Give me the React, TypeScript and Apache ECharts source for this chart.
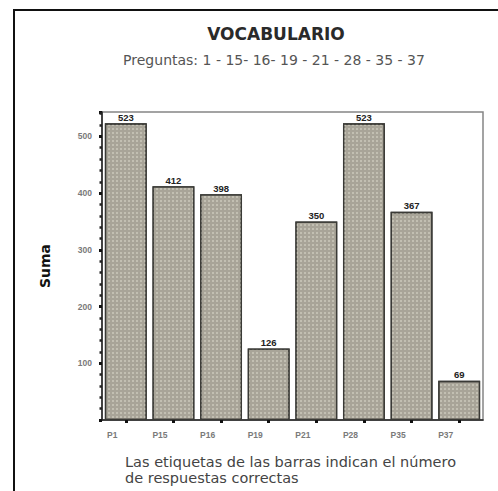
import { useEffect, useRef } from "react";
import * as echarts from "echarts";

// Chart data
const categories = ["P1", "P15", "P16", "P19", "P21", "P28", "P35", "P37"];
const correctAnswers = [523, 412, 398, 126, 350, 523, 367, 69];
const yTickStep = 100;
const yMax = 543;

// Texts
const titleText = "VOCABULARIO";
const subtitleText = "Preguntas: 1 - 15- 16- 19 - 21 - 28 - 35 - 37";
const footnoteLines = [
  "Las etiquetas de las barras indican el número",
  "de respuestas correctas",
];
const yAxisName = "Suma";

const W = 498;
const H = 491;

export default function App() {
  const ref = useRef<HTMLDivElement>(null);

  useEffect(() => {
    if (!ref.current) return;
    const chart = echarts.init(ref.current, null, { renderer: "svg" });

    chart.setOption({
      animation: false,
      backgroundColor: "#ffffff",
      grid: {
        left: 102,
        right: 15,
        top: 112,
        bottom: 71,
        show: true,
        borderColor: "#858585",
        borderWidth: 1.5,
        backgroundColor: "#ffffff",
      },
      graphic: [
        {
          type: "polyline",
          shape: { points: [[14, H + 5], [14, 10], [W + 5, 10]] },
          style: { stroke: "#111111", lineWidth: 2, fill: "none" },
          silent: true,
        },
        {
          type: "text",
          x: 276,
          y: 34,
          style: {
            text: titleText,
            font: "bold 17px 'DejaVu Sans'",
            fill: "#2a2a2a",
            textAlign: "center",
            textVerticalAlign: "middle",
          },
        },
        {
          type: "text",
          x: 274,
          y: 60,
          style: {
            text: subtitleText,
            font: "14px 'DejaVu Sans'",
            fill: "#555555",
            textAlign: "center",
            textVerticalAlign: "middle",
          },
        },
        {
          type: "text",
          x: 125,
          y: 454,
          style: {
            text: footnoteLines.join("\n"),
            font: "14.5px 'DejaVu Sans'",
            lineHeight: 16,
            fill: "#444444",
            textAlign: "left",
            textVerticalAlign: "top",
          },
        },
      ],
      xAxis: {
        type: "category",
        data: categories,
        axisLine: { show: true, lineStyle: { color: "#222222", width: 1.5 } },
        axisTick: {
          show: true,
          alignWithLabel: true,
          length: 3,
          lineStyle: { color: "#111111", width: 3 },
        },
        axisLabel: {
          fontFamily: "'Liberation Sans', Arial, sans-serif",
          fontSize: 8.5,
          fontWeight: "bold",
          color: "#7a7a7a",
          margin: 10,
          padding: [0, 27, 0, 0],
        },
      },
      yAxis: {
        type: "value",
        min: 0,
        max: yMax,
        interval: yTickStep,
        name: yAxisName,
        nameLocation: "middle",
        nameGap: 50,
        nameTextStyle: {
          fontFamily: "'DejaVu Sans', sans-serif",
          fontSize: 14,
          fontWeight: "bold",
          color: "#111111",
        },
        axisLine: { show: true, lineStyle: { color: "#222222", width: 1.5 } },
        axisTick: {
          show: true,
          length: 3,
          lineStyle: { color: "#111111", width: 3 },
        },
        minorTick: {
          show: true,
          splitNumber: 5,
          length: 2.5,
          lineStyle: { color: "#222222", width: 2.5 },
        },
        splitLine: { show: false },
        axisLabel: {
          fontFamily: "'Liberation Sans', Arial, sans-serif",
          fontSize: 8.5,
          fontWeight: "bold",
          color: "#7a7a7a",
          margin: 10,
          formatter: (v: number) =>
            v > 0 && v % yTickStep === 0 ? String(v) : "",
        },
      },
      series: [
        {
          type: "bar",
          data: correctAnswers,
          barCategoryGap: "12%",
          itemStyle: {
            color: "#a8a498",
            borderColor: "#3a3a36",
            borderWidth: 1.3,
            decal: {
              symbol: "rect",
              symbolSize: 1,
              dashArrayX: [1.5, 1.5],
              dashArrayY: [1.5, 1.5],
              color: "rgba(215,212,198,0.55)",
            },
          },
          label: {
            show: true,
            position: "top",
            distance: 1,
            fontFamily: "'Liberation Sans', Arial, sans-serif",
            fontSize: 9.5,
            fontWeight: "bold",
            color: "#222222",
          },
        },
      ],
    });

    return () => chart.dispose();
  }, []);

  return (
    <div
      ref={ref}
      style={{ position: "fixed", left: 0, top: 0, width: W, height: H }}
    />
  );
}
